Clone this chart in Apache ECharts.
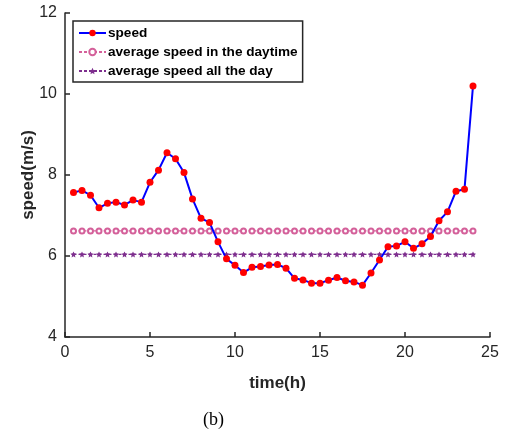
<!DOCTYPE html>
<html>
<head>
<meta charset="utf-8">
<script src="https://cdn.jsdelivr.net/npm/echarts@6/dist/echarts.min.js"></script>
<style>
  html, body { margin: 0; padding: 0; background: #fff; }
  #chart { width: 507px; height: 431px; }
</style>
</head>
<body>
<div id="chart"></div>
<script>
// half-hourly samples
const hours = [0.5, 1, 1.5, 2, 2.5, 3, 3.5, 4, 4.5, 5, 5.5, 6, 6.5, 7, 7.5, 8,
  8.5, 9, 9.5, 10, 10.5, 11, 11.5, 12, 12.5, 13, 13.5, 14, 14.5, 15, 15.5, 16,
  16.5, 17, 17.5, 18, 18.5, 19, 19.5, 20, 20.5, 21, 21.5, 22, 22.5, 23, 23.5, 24];
const speed = [7.57, 7.62, 7.50, 7.19, 7.30, 7.33, 7.26, 7.38, 7.33, 7.82, 8.12, 8.55,
  8.40, 8.06, 7.41, 6.93, 6.83, 6.35, 5.93, 5.77, 5.59, 5.72, 5.74, 5.78,
  5.79, 5.70, 5.45, 5.41, 5.33, 5.33, 5.40, 5.47, 5.39, 5.36, 5.28, 5.58,
  5.90, 6.23, 6.25, 6.35, 6.19, 6.30, 6.48, 6.87, 7.09, 7.60, 7.65, 10.20];
const avgDaytime = 6.62;
const avgAllDay = 6.04;
const xTicks = [0, 5, 10, 15, 20, 25];
const yTicks = [4, 6, 8, 10, 12];

const axisColor = "#262626";
const font = "Liberation Sans, Arial, Helvetica, sans-serif";
const starPath = "path://M0,-10 L2.9,-4 L9.5,-3.1 L4.7,1.5 L5.9,8.1 L0,5 L-5.9,8.1 L-4.7,1.5 L-9.5,-3.1 L-2.9,-4 Z";

const chart = echarts.init(document.getElementById("chart"), null, { renderer: "canvas" });

chart.setOption({
  animation: false,
  backgroundColor: "#fff",
  grid: { left: 65, right: 17, top: 13, bottom: 94 },
  legend: {
    orient: "vertical",
    left: 73,
    top: 21,
    padding: [5, 5, 4, 5],
    itemWidth: 27,
    itemHeight: 8,
    itemGap: 5,
    borderColor: axisColor,
    borderWidth: 1.5,
    textStyle: { fontFamily: font, fontWeight: "bold", fontSize: 13.6, color: "#000", padding: [0, 0, 0, -3] },
    data: ["speed", "average speed in the daytime", "average speed all the day"],
  },
  xAxis: {
    type: "value",
    min: xTicks[0],
    max: xTicks[xTicks.length - 1],
    interval: 5,
    name: "time(h)",
    nameLocation: "middle",
    nameGap: 38,
    nameMoveOverlap: false,
    nameTextStyle: { fontFamily: font, fontWeight: "bold", fontSize: 17, color: "#262626" },
    axisLine: { lineStyle: { color: axisColor, width: 1.5 } },
    axisTick: { inside: true, length: 5, lineStyle: { color: axisColor, width: 1.5 } },
    axisLabel: { margin: 8, fontFamily: font, fontSize: 16, color: "#262626" },
    splitLine: { show: false },
  },
  yAxis: {
    type: "value",
    min: yTicks[0],
    max: yTicks[yTicks.length - 1],
    interval: 2,
    name: "speed(m/s)",
    nameLocation: "middle",
    nameGap: 28,
    nameMoveOverlap: false,
    nameTextStyle: { fontFamily: font, fontWeight: "bold", fontSize: 17, color: "#262626" },
    axisLine: { show: true, lineStyle: { color: axisColor, width: 1.5 } },
    axisTick: { show: true, inside: true, length: 5, lineStyle: { color: axisColor, width: 1.5 } },
    axisLabel: { margin: 8, fontFamily: font, fontSize: 16, color: "#262626" },
    splitLine: { show: false },
  },
  graphic: [
    {
      type: "text",
      left: 203,
      top: 411,
      style: { text: "(b)", fontFamily: "Liberation Serif, Times New Roman, serif", fontSize: 18, fill: "#000" },
    },
  ],
  series: [
    {
      name: "average speed in the daytime",
      type: "line",
      data: hours.map((h) => [h, avgDaytime]),
      symbol: "emptyCircle",
      symbolSize: 5,
      lineStyle: { color: "#d4609a", width: 1.2, type: [3, 2] },
      itemStyle: { color: "#d4609a", borderWidth: 1.2 },
      z: 2,
    },
    {
      name: "average speed all the day",
      type: "line",
      data: hours.map((h) => [h, avgAllDay]),
      symbol: starPath,
      symbolSize: 6,
      lineStyle: { color: "#7e2f8e", width: 1.2, type: [3, 2] },
      itemStyle: { color: "#7e2f8e" },
      z: 2,
    },
    {
      name: "speed",
      type: "line",
      data: hours.map((h, i) => [h, speed[i]]),
      symbol: "circle",
      symbolSize: 7,
      showAllSymbol: true,
      lineStyle: { color: "#0000ff", width: 2 },
      itemStyle: { color: "#ff0000" },
      z: 3,
    },
  ],
});
</script>
</body>
</html>
